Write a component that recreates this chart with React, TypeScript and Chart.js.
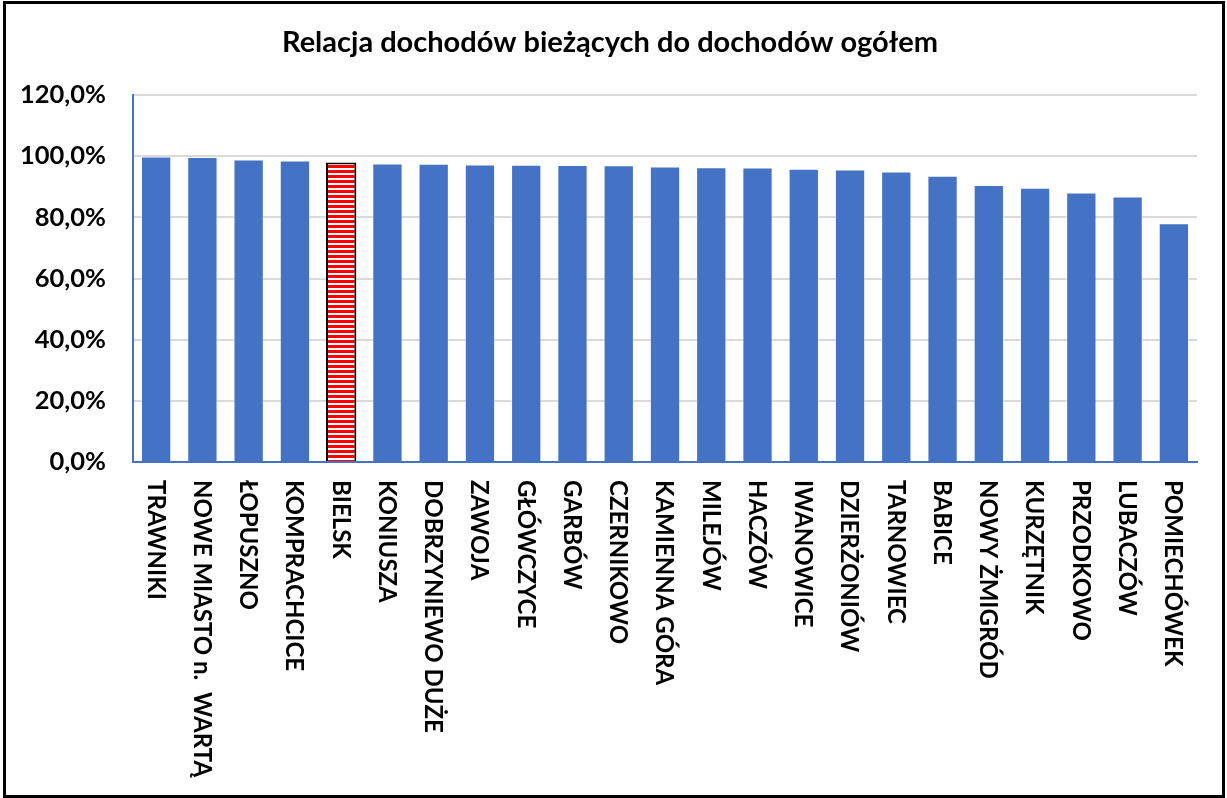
import React, { useEffect, useRef } from "react";
import { Chart, registerables } from "chart.js";

Chart.register(...registerables);

const TITLE = "Relacja dochodów bieżących do dochodów ogółem";

const categories = [
  "TRAWNIKI",
  "NOWE MIASTO n.  WARTĄ",
  "ŁOPUSZNO",
  "KOMPRACHCICE",
  "BIELSK",
  "KONIUSZA",
  "DOBRZYNIEWO DUŻE",
  "ZAWOJA",
  "GŁÓWCZYCE",
  "GARBÓW",
  "CZERNIKOWO",
  "KAMIENNA GÓRA",
  "MILEJÓW",
  "HACZÓW",
  "IWANOWICE",
  "DZIERŻONIÓW",
  "TARNOWIEC",
  "BABICE",
  "NOWY ŻMIGRÓD",
  "KURZĘTNIK",
  "PRZODKOWO",
  "LUBACZÓW",
  "POMIECHÓWEK",
];

const values = [
  99.9, 99.7, 98.9, 98.6, 97.9, 97.6, 97.5, 97.3, 97.2, 97.1, 97.0, 96.6,
  96.4, 96.3, 95.9, 95.6, 95.0, 93.6, 90.6, 89.7, 88.1, 86.8, 78.1,
];

const highlighted = ["BIELSK"];

const yMin = 0;
const yMax = 120;
const yStep = 20;

const FONT = "Lato";
const BLUE = "#4472C4";

function makeStripePattern(): CanvasPattern | string {
  const c = document.createElement("canvas");
  c.width = 4;
  c.height = 5;
  const g = c.getContext("2d");
  if (!g) return "#ff0000";
  g.fillStyle = "#ffffff";
  g.fillRect(0, 0, 4, 5);
  g.fillStyle = "#ff0000";
  g.fillRect(0, 0, 4, 3);
  const p = g.createPattern(c, "repeat");
  return p || "#ff0000";
}

const customText = {
  id: "customText",
  afterDraw(chart: any) {
    const xs = chart.scales.x;
    const ctx = chart.ctx as CanvasRenderingContext2D;
    ctx.save();
    // title
    ctx.font = `bold 29px ${FONT}`;
    ctx.fillStyle = "#000000";
    ctx.textAlign = "center";
    ctx.textBaseline = "alphabetic";
    ctx.fillText(TITLE, 610, 52);
    // rotated category labels
    const size = 24;
    const capH = size * 0.7165;
    ctx.font = `bold ${size}px ${FONT}`;
    ctx.textAlign = "left";
    categories.forEach((label, i) => {
      const cx = xs.getPixelForValue(i);
      ctx.save();
      ctx.translate(cx - capH / 2, xs.top + 18);
      ctx.rotate(Math.PI / 2);
      ctx.fillText(label, 0, 0);
      ctx.restore();
    });
    ctx.restore();
  },
};

export default function App() {
  const ref = useRef<HTMLCanvasElement | null>(null);

  useEffect(() => {
    if (!ref.current) return;
    const stripes = makeStripePattern();
    const bg = categories.map((c) => (highlighted.includes(c) ? stripes : BLUE));
    const bc = categories.map((c) =>
      highlighted.includes(c) ? "#000000" : "rgba(255,255,255,0.45)"
    );
    const bw = categories.map((c) => (highlighted.includes(c) ? 2 : 1));

    const chart = new Chart(ref.current, {
      type: "bar",
      data: {
        labels: categories,
        datasets: [
          {
            data: values,
            backgroundColor: bg as any,
            borderColor: bc,
            borderWidth: bw,
            borderSkipped: "bottom",
            barPercentage: 0.655,
            categoryPercentage: 1,
          },
        ],
      },
      options: {
        responsive: false,
        animation: false,
        layout: { padding: { left: 0, right: 30, top: 95, bottom: 0 } },
        plugins: {
          legend: { display: false },
          tooltip: { enabled: false },
          title: { display: false },
        },
        scales: {
          x: {
            type: "category",
            grid: { display: false },
            border: { display: true, color: BLUE, width: 2 },
            ticks: { display: false },
            afterFit: (s: any) => {
              s.height = 336;
            },
          },
          y: {
            min: yMin,
            max: yMax,
            grid: { color: "#d9d9d9", lineWidth: 2, drawTicks: false },
            border: { display: true, color: BLUE, width: 2 },
            ticks: {
              stepSize: yStep,
              padding: 27,
              color: "#000000",
              font: { family: FONT, size: 25.5, weight: "bold" },
              callback: (v: any) => Number(v).toFixed(1).replace(".", ",") + "%",
            },
            afterFit: (s: any) => {
              s.width = 133;
            },
          },
        },
      },
      plugins: [customText],
    });
    return () => chart.destroy();
  }, []);

  return (
    <div
      style={{
        position: "fixed",
        left: 0,
        top: 0,
        width: 1227,
        height: 798,
        background: "#ffffff",
      }}
    >
      <canvas
        ref={ref}
        width={1227}
        height={798}
        style={{ position: "absolute", left: 0, top: 0 }}
      />
      <div
        style={{
          position: "absolute",
          left: 3,
          top: 1,
          width: 1222,
          height: 797,
          border: "3px solid #000000",
          boxSizing: "border-box",
          pointerEvents: "none",
        }}
      />
    </div>
  );
}
